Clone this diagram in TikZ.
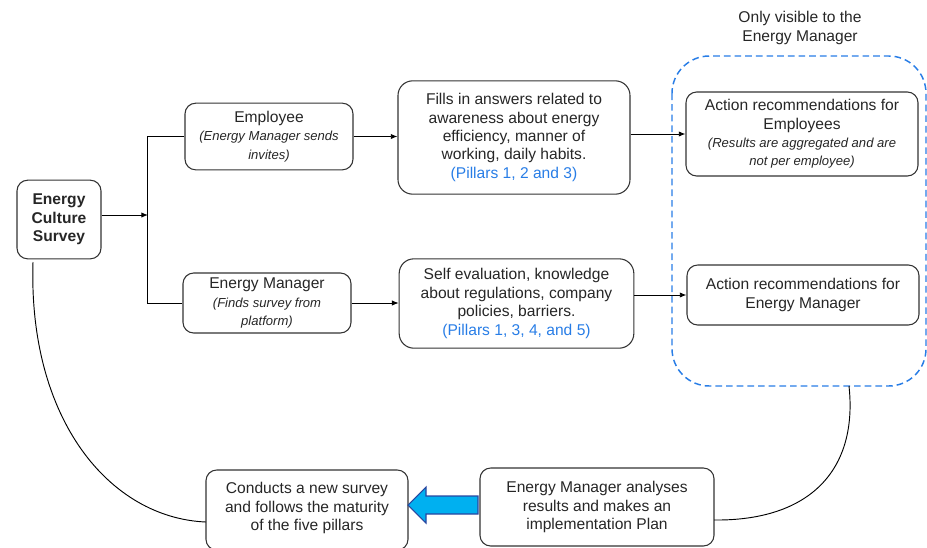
\documentclass[tikz,border=0pt]{standalone}
\usepackage{fontspec}
\setmainfont{Liberation Sans}
\usetikzlibrary{arrows.meta}
\definecolor{pblue}{RGB}{40,125,230}
\definecolor{arrfill}{RGB}{0,176,240}
\definecolor{arrline}{RGB}{40,70,160}
\newcommand{\subtxt}[1]{{\fontsize{9.8}{12}\selectfont\itshape #1}}
\begin{document}
\begin{tikzpicture}[x=0.75pt,y=-0.75pt,
  txt/.style={font=\fontsize{11.7}{13.8}\selectfont,text=black!85,align=center},
  box/.style={txt,draw=black!80,line width=0.8pt,rounded corners=8pt,inner sep=2pt},
  arr/.style={-{Latex[length=5pt,width=4pt]},line width=0.7pt},
  ln/.style={line width=0.7pt}]
\useasboundingbox (0,0) rectangle (927,547);
% dashed region
\draw[pblue,line width=1.1pt,dash pattern=on 5pt off 3pt,rounded corners=28pt] (672,56) rectangle (926,386);
\node[txt] (lbl) at (800,28) {Only visible to the\\Energy Manager};
% nodes
\node[box,minimum width=63pt,minimum height=59pt,font=\fontsize{11.7}{13.8}\selectfont\bfseries] (survey) at (59,219.5) {Energy\\Culture\\Survey};
\node[box,minimum width=126pt,minimum height=50pt] (emp) at (269,136.5) {Employee\\\subtxt{(Energy Manager sends}\\\subtxt{invites)}};
\node[box,minimum width=126pt,minimum height=45pt] (em) at (267,303) {Energy Manager\\\subtxt{(Finds survey from}\\\subtxt{platform)}};
\node[box,minimum width=174pt,minimum height=85pt,rounded corners=11pt] (fills) at (514,137.5) {Fills in answers related to\\awareness about energy\\efficiency, manner of\\working, daily habits.\\\textcolor{pblue}{(Pillars 1, 2 and 3)}};
\node[box,minimum width=176pt,minimum height=67pt,rounded corners=11pt] (self) at (516.5,303.5) {Self evaluation, knowledge\\about regulations, company\\policies, barriers.\\\textcolor{pblue}{(Pillars 1, 3, 4, and 5)}};
\node[box,minimum width=174pt,minimum height=63pt] (ae) at (802,134) {Action recommendations for\\Employees\\\subtxt{(Results are aggregated and are}\\\subtxt{not per employee)}};
\node[box,minimum width=174pt,minimum height=45pt] (aem) at (803,295) {Action recommendations for\\Energy Manager};
\node[box,minimum width=151.5pt,minimum height=60pt] (cond) at (307,510) {};
\node[txt] (condt) at (307,508) {Conducts a new survey\\and follows the maturity\\of the five pillars};
\node[box,minimum width=175.5pt,minimum height=58.5pt] (ana) at (597,507) {Energy Manager analyses\\results and makes an\\implementation Plan};
% connectors
\coordinate (br) at (148,215);
\draw[arr] (survey.east |- br) -- (br);
\draw[ln] (emp.west) -- ++(-37,0) coordinate (bt) -- (bt |- em.west) -- (em.west);
\draw[arr] (emp.east) -- (fills.west |- emp.east);
\draw[arr] (em.east) -- (self.west |- em.east);
\draw[arr] (fills.east |- ae.west) -- (ae.west);
\draw[arr] (self.east |- aem.west) -- (aem.west);
\coordinate (db) at (849,386);
\coordinate (anaE) at (714,520);
\coordinate (svB) at (33,262);
\coordinate (cdW) at (206,522);
\draw[ln] (db) .. controls (858,470) and (810,521) .. (anaE);
\draw[ln] (svB) .. controls (28,420) and (110,518) .. (cdW);
% block arrow
\draw[draw=arrline,fill=arrfill,line width=0.8pt,line join=miter]
  (478,496) -- (426,496) -- (426,487) -- (408,505) -- (426,523) -- (426,514) -- (478,514) -- cycle;
\end{tikzpicture}
\end{document}
